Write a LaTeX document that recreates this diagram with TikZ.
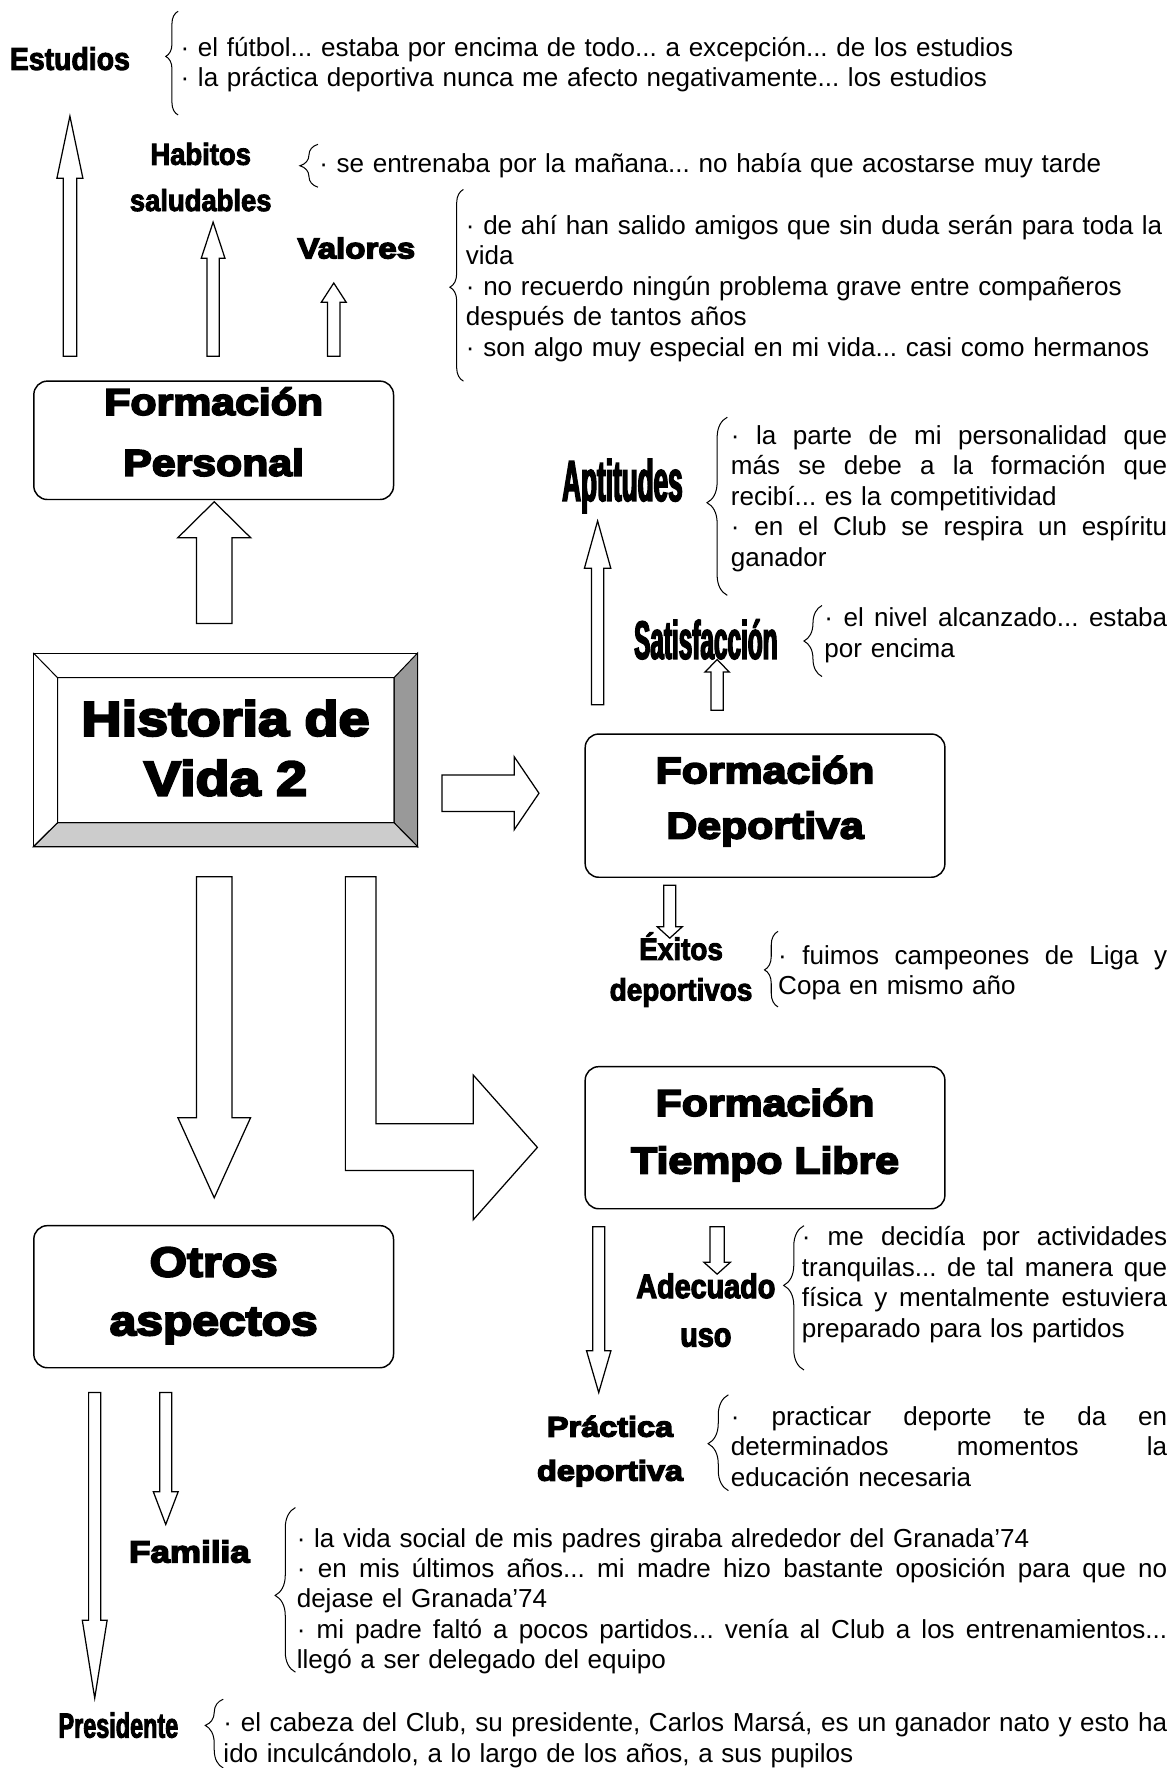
\documentclass[tikz,border=0pt]{standalone}
\usepackage{fontspec}
\setmainfont{Liberation Sans}
\newfontfamily\heavyfont[BoldFeatures={FakeStretch=1.15,FakeBold=5}]{Liberation Sans}
\newfontfamily\narrowfont[BoldFeatures={FakeStretch=0.9,FakeBold=3}]{Liberation Sans}
\newfontfamily\squeezefont[BoldFeatures={FakeStretch=0.85,FakeBold=3.5}]{Liberation Sans}
\newfontfamily\tallfont[BoldFeatures={FakeStretch=0.45,FakeBold=2.5}]{Liberation Sans}
\newfontfamily\presfont[BoldFeatures={FakeStretch=0.67,FakeBold=2.5}]{Liberation Sans}
\usetikzlibrary{calc,decorations.pathreplacing}

\definecolor{bevelright}{HTML}{999999}
\definecolor{bevelbottom}{HTML}{CCCCCC}

\frenchspacing
\hyphenpenalty=10000
\exhyphenpenalty=10000

% justified line of a given width
\newcommand\fillline[2]{\noindent\hbox to #1{\spaceskip=\fontdimen2\font plus 1fil\relax #2}}
% hollow block arrow: tail, tip, half shaft, half head, head length
\newcommand\blockarrow[5]{%
  \coordinate (ba-base) at ($(#2)!#5!(#1)$);
  \draw[blockarr] ($(#1)!#3!90:(#2)$) -- ($(ba-base)!#3!90:(#2)$)
    -- ($(ba-base)!#4!90:(#2)$) -- (#2) -- ($(ba-base)!#4!-90:(#2)$)
    -- ($(ba-base)!#3!-90:(#2)$) -- ($(#1)!#3!-90:(#2)$) -- cycle;}

\tikzset{
  body/.style={anchor=base west, inner sep=0pt, align=left,
    font=\fontsize{23.1}{27}\selectfont},
  tag/.style={inner sep=0pt, align=center},
  title/.style={inner sep=0pt, align=center},
  roundbox/.style={draw, line width=1.3pt, rounded corners=12pt,
    minimum width=319pt, inner sep=0pt},
  hvbox/.style={draw, line width=.9pt, inner sep=0pt,
    minimum width=340pt, minimum height=171pt},
  blockarr/.style={draw, line width=1.1pt, fill=white, line join=miter},
  curly/.style 2 args={decorate, line width=.9pt,
    decoration={brace, amplitude=#1, aspect=#2}},
}

\begin{document}
\begin{tikzpicture}[x=1pt,y=-1pt]
\useasboundingbox (0,0) rectangle (1042,1568);

% main frame
\node[hvbox] (hist) at (200,665) {};
\coordinate (hvNW) at ($(hist.north west)+(21.5,22)$);
\coordinate (hvNE) at ($(hist.north east)+(-21,22)$);
\coordinate (hvSW) at ($(hist.south west)+(21.5,-21.3)$);
\coordinate (hvSE) at ($(hist.south east)+(-21,-21.3)$);
\filldraw[fill=bevelright, line width=.9pt] (hist.north east) -- (hist.south east) -- (hvSE) -- (hvNE) -- cycle;
\filldraw[fill=bevelbottom, line width=.9pt] (hist.south west) -- (hist.south east) -- (hvSE) -- (hvSW) -- cycle;
\draw[line width=.9pt] (hvNW) rectangle (hvSE) (hist.north west) -- (hvNW) (hist.south west) -- (hvSW);
\node[title, font=\heavyfont\bfseries\fontsize{43}{53}\selectfont] (histT) at (200,663.5) {Historia de\\Vida 2};

% boxes
\node[roundbox, minimum height=105pt] (fpers) at (189.5,390.5) {};
\node[title, font=\heavyfont\bfseries\fontsize{33}{54}\selectfont] (fpersT) at (189.5,383) {Formación\\Personal};
\node[roundbox, minimum height=127pt] (fdep) at (678.5,714.5) {};
\node[title, font=\heavyfont\bfseries\fontsize{33}{49}\selectfont] (fdepT) at (678.5,710.5) {Formación\\Deportiva};
\node[roundbox, minimum height=126pt] (ftl) at (678.5,1009) {};
\node[title, font=\heavyfont\bfseries\fontsize{33}{51}\selectfont] (ftlT) at (678.5,1006.5) {Formación\\Tiempo Libre};
\node[roundbox, minimum height=126pt] (otros) at (189.5,1150) {};
\node[title, font=\heavyfont\bfseries\fontsize{37}{52}\selectfont] (otrosT) at (189.5,1149) {Otros\\aspectos};

% arrows
\coordinate (persA) at (190,553);   \coordinate (persB) at (190,445);
\coordinate (depA) at (392,703.5);  \coordinate (depB) at (478,703.5);
\coordinate (otrA) at (190,777.6);  \coordinate (otrB) at (190,1062.3);
\coordinate (estA) at (62,316);     \coordinate (estB) at (62,103);
\coordinate (habA) at (189,316);    \coordinate (habB) at (189,197);
\coordinate (valA) at (296,316);    \coordinate (valB) at (296,251);
\coordinate (aptA) at (530,625);    \coordinate (aptB) at (530,462);
\coordinate (satA) at (636,630);    \coordinate (satB) at (636,585);
\coordinate (exA) at (594,785);     \coordinate (exB) at (594,832);
\coordinate (prA) at (531,1088);    \coordinate (prB) at (531,1235);
\coordinate (adA) at (636,1088);    \coordinate (adB) at (636,1130);
\coordinate (preA) at (84,1235);    \coordinate (preB) at (84,1506);
\coordinate (famA) at (147,1235);   \coordinate (famB) at (147,1352);
\blockarrow{persA}{persB}{15.8pt}{32.4pt}{32pt}
\blockarrow{depA}{depB}{16.2pt}{32.4pt}{22pt}
\blockarrow{otrA}{otrB}{15.8pt}{32.2pt}{71pt}
\blockarrow{estA}{estB}{6pt}{11.5pt}{55pt}
\blockarrow{habA}{habB}{5.5pt}{10.5pt}{32pt}
\blockarrow{valA}{valB}{5.5pt}{11pt}{17pt}
\blockarrow{aptA}{aptB}{5.4pt}{11.7pt}{42pt}
\blockarrow{satA}{satB}{5.4pt}{10.8pt}{11pt}
\blockarrow{exA}{exB}{5.4pt}{11pt}{10pt}
\blockarrow{prA}{prB}{5.4pt}{10.8pt}{37pt}
\blockarrow{adA}{adB}{6.3pt}{11.7pt}{10.5pt}
\blockarrow{preA}{preB}{5.4pt}{11pt}{69pt}
\blockarrow{famA}{famB}{5.3pt}{11pt}{29pt}
% bent arrow to Tiempo Libre
\draw[blockarr] (306.3,777.6) -- (333.4,777.6) -- (333.4,996.6) -- (419.7,996.6)
  -- (419.7,953.4) -- (476.6,1017.6) -- (419.7,1081.8) -- (419.7,1038)
  -- (306.3,1038) -- cycle;

% labels
\node[tag, font=\narrowfont\bfseries\fontsize{28}{28}\selectfont] (estudios) at (62,52) {Estudios};
\node[tag, font=\narrowfont\bfseries\fontsize{27}{41}\selectfont] (habitos) at (178,157) {Habitos\\saludables};
\node[tag, font=\heavyfont\bfseries\fontsize{25.5}{30}\selectfont] (valores) at (316,220) {Valores};
\node[tag, font=\tallfont\bfseries\fontsize{51.5}{52}\selectfont] (aptitudes) at (552,431) {Aptitudes};
\node[tag, font=\tallfont\bfseries\fontsize{48}{48}\selectfont] (satisf) at (626,567) {Satisfacción};
\node[tag, font=\narrowfont\bfseries\fontsize{27.5}{36}\selectfont] (exitos) at (604,860) {Éxitos\\deportivos};
\node[tag, font=\squeezefont\bfseries\fontsize{30}{43}\selectfont] (adecuado) at (626,1162) {Adecuado\\uso};
\node[tag, font=\heavyfont\bfseries\fontsize{25}{39}\selectfont] (practica) at (541,1287) {Práctica\\deportiva};
\node[tag, font=\heavyfont\bfseries\fontsize{27}{30}\selectfont] (familia) at (168,1376) {Familia};
\node[tag, font=\presfont\bfseries\fontsize{31}{31}\selectfont] (presidente) at (105,1530) {Presidente};

% braces
\draw[curly={11pt}{0.565}] (158,102) -- (158,10);
\draw[curly={16pt}{0.5}] (282,166) -- (282,128);
\draw[curly={12pt}{0.49}] (411,338) -- (411,168);
\draw[curly={18pt}{0.52}] (645,528) -- (645,370);
\draw[curly={16pt}{0.5}] (729,600) -- (729,537);
\draw[curly={12pt}{0.49}] (690,893) -- (690,826);
\draw[curly={18pt}{0.586}] (713,1215) -- (713,1087);
\draw[curly={18pt}{0.49}] (646,1322) -- (646,1237);
\draw[curly={18pt}{0.466}] (262,1483) -- (262,1337);
\draw[curly={16pt}{0.62}] (198,1568) -- (198,1507);

% texts
\node[body, text width=870pt] (estTxt) at (160,50) {· el fútbol... estaba por encima de todo... a excepción... de los estudios\\
  · la práctica deportiva nunca me afecto negativamente... los estudios};
\node[body, text width=740pt] (habTxt) at (283,153) {· se entrenaba por la mañana... no había que acostarse muy tarde};
\node[body, text width=629pt] (valTxt) at (413,208) {· de ahí han salido amigos que sin duda serán para toda la\\
  vida\\
  · no recuerdo ningún problema grave entre compañeros\\
  después de tantos años\\
  · son algo muy especial en mi vida... casi como hermanos};
\node[body, text width=387pt] (aptTxt) at (648,394) {\fillline{387pt}{· la parte de mi personalidad que}\\
  \fillline{387pt}{más se debe a la formación que}\\
  recibí... es la competitividad\\
  \fillline{387pt}{· en el Club se respira un espíritu}\\
  ganador};
\node[body, text width=304pt] (satTxt) at (731,556) {\fillline{304pt}{· el nivel alcanzado... estaba}\\
  por encima};
\node[body, text width=345pt] (exTxt) at (690,855) {\fillline{345pt}{· fuimos campeones de Liga y}\\
  Copa en mismo año};
\node[body, text width=324pt] (adTxt) at (711,1105) {\fillline{324pt}{· me decidía por actividades}\\
  \fillline{324pt}{tranquilas... de tal manera que}\\
  \fillline{324pt}{física y mentalmente estuviera}\\
  preparado para los partidos};
\node[body, text width=387pt] (prTxt) at (648,1264) {\fillline{387pt}{· practicar deporte te da en}\\
  \fillline{387pt}{determinados momentos la}\\
  educación necesaria};
\node[body, text width=772pt] (famTxt) at (263,1372) {· la vida social de mis padres giraba alrededor del Granada’74\\
  \fillline{772pt}{· en mis últimos años... mi madre hizo bastante oposición para que no}\\
  dejase el Granada’74\\
  \fillline{772pt}{· mi padre faltó a pocos partidos... venía al Club a los entrenamientos...}\\
  llegó a ser delegado del equipo};
\node[body, text width=837pt] (presTxt) at (198,1536) {\fillline{837pt}{· el cabeza del Club, su presidente, Carlos Marsá, es un ganador nato y esto ha}\\
  ido inculcándolo, a lo largo de los años, a sus pupilos};
\end{tikzpicture}
\end{document}
